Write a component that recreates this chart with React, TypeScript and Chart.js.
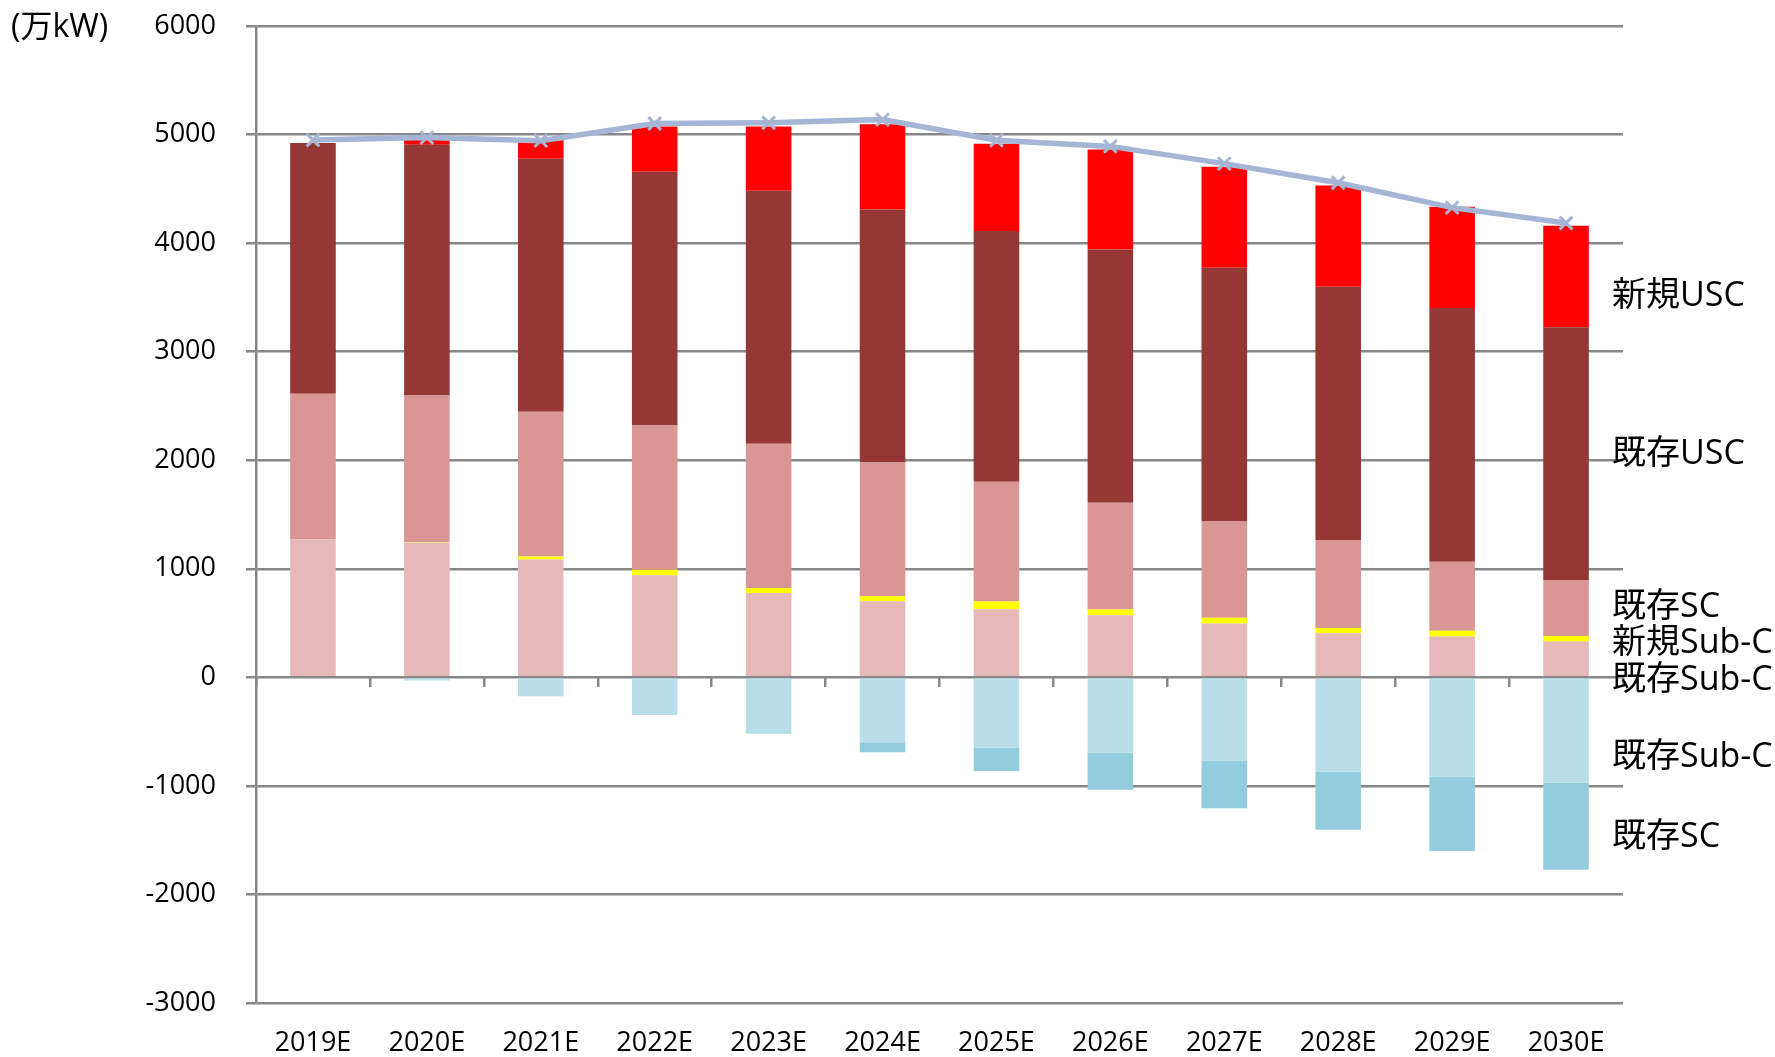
import React, { useEffect, useRef } from "react";
import { Chart, registerables } from "chart.js";

Chart.register(...registerables);

const years = ["2019E", "2020E", "2021E", "2022E", "2023E", "2024E", "2025E", "2026E", "2027E", "2028E", "2029E", "2030E"];
const existSubC = [1269, 1241, 1086, 941, 776, 702, 628, 571, 497, 406, 377, 331];
const newSubC = [0, 5, 28, 50, 46, 46, 70, 53, 53, 49, 53, 50];
const existSC = [1344, 1351, 1333, 1329, 1329, 1230, 1104, 984, 885, 811, 635, 515];
const existUSC = [2309, 2309, 2331, 2338, 2331, 2331, 2309, 2334, 2338, 2331, 2338, 2330];
const newUSC = [0, 43, 169, 416, 592, 786, 804, 920, 931, 934, 931, 935];
const retiredSubC = [0, -30, -175, -347, -519, -599, -648, -694, -768, -869, -915, -968];
const retiredSC = [0, 0, 0, 0, 0, -92, -215, -341, -439, -535, -685, -805];
const totalLine = [4950, 4972, 4944, 5102, 5109, 5138, 4947, 4891, 4732, 4556, 4327, 4185];
const yTicks = [-3000, -2000, -1000, 0, 1000, 2000, 3000, 4000, 5000, 6000];

const rightLabels: { text: string; y: number }[] = [
  { text: "新規USC", y: 293 },
  { text: "既存USC", y: 451 },
  { text: "既存SC", y: 604 },
  { text: "新規Sub-C", y: 640 },
  { text: "既存Sub-C", y: 677 },
  { text: "既存Sub-C", y: 754 },
  { text: "既存SC", y: 834 },
];

const FONT = '"Open Sans", "Noto Sans CJK JP", sans-serif';
const GRID = "#878787";
const LINE = "#a5b5d5";

export default function App() {
  const ref = useRef<HTMLCanvasElement>(null);
  useEffect(() => {
    Chart.defaults.font.family = FONT;
    const chart = new Chart(ref.current as HTMLCanvasElement, {
      type: "bar",
      data: {
        labels: years,
        datasets: [
          {
            type: "line",
            label: "合計",
            data: totalLine,
            borderColor: LINE,
            backgroundColor: LINE,
            borderWidth: 5.5,
            pointStyle: "crossRot",
            pointRadius: 9,
            pointBorderWidth: 3,
            pointBorderColor: LINE,
            stack: "line",
            order: 0,
            tension: 0,
          } as any,
          { label: "既存Sub-C", data: existSubC, backgroundColor: "#e6b9b8", stack: "s", order: 1 },
          { label: "新規Sub-C", data: newSubC, backgroundColor: "#ffff00", stack: "s", order: 1 },
          { label: "既存SC", data: existSC, backgroundColor: "#d99694", stack: "s", order: 1 },
          { label: "既存USC", data: existUSC, backgroundColor: "#953735", stack: "s", order: 1 },
          { label: "新規USC", data: newUSC, backgroundColor: "#ff0000", stack: "s", order: 1 },
          { label: "既存Sub-C廃止", data: retiredSubC, backgroundColor: "#b7dee8", stack: "s", order: 1 },
          { label: "既存SC廃止", data: retiredSC, backgroundColor: "#93cddd", stack: "s", order: 1 },
        ],
      },
      options: {
        responsive: false,
        animation: false,
        devicePixelRatio: 1,
        layout: { padding: { top: 26, right: 152, left: 0, bottom: 0 } },
        plugins: { legend: { display: false }, tooltip: { enabled: false } },
        datasets: { bar: { barPercentage: 0.4, categoryPercentage: 1 } },
        scales: {
          x: {
            stacked: true,
            grid: { display: false, drawTicks: false },
            border: { display: false },
            ticks: { padding: 24, font: { size: 27 }, color: "#000", maxRotation: 0, autoSkip: false },
            afterFit: (s: any) => {
              s.height = 54;
            },
          },
          x2: {
            type: "category",
            position: { y: 0 },
            offset: true,
            grid: { offset: true, drawOnChartArea: false, drawTicks: true, tickLength: 10, color: GRID, lineWidth: 2.5 },
            ticks: { display: false },
            border: { display: false },
          },
          y: {
            stacked: true,
            min: -3000,
            max: 6000,
            afterBuildTicks: (s: any) => {
              s.ticks = yTicks.map((v) => ({ value: v }));
            },
            ticks: { padding: 30, font: { size: 27 }, color: "#000", callback: (v: any) => String(v) },
            grid: { color: GRID, lineWidth: 2.5, tickLength: 10 },
            border: { color: GRID, width: 2.5 },
            afterFit: (s: any) => {
              s.width = 256;
              s.paddingTop = 10;
              s.paddingBottom = 10;
            },
          },
        } as any,
      },
    });
    return () => chart.destroy();
  }, []);

  return (
    <div style={{ position: "absolute", left: 0, top: 0, width: 1775, height: 1057, background: "#fff", fontFamily: FONT }}>
      <canvas ref={ref} width={1775} height={1057} style={{ position: "absolute", left: 0, top: 0 }} />
      <div style={{ position: "absolute", left: 11, top: 25, transform: "translateY(-50%)", fontSize: 32, color: "#000", whiteSpace: "nowrap", lineHeight: 1 }}>
        (万kW)
      </div>
      {rightLabels.map((l, i) => (
        <div
          key={i}
          style={{ position: "absolute", left: 1612, top: l.y, transform: "translateY(-50%)", fontSize: 34, color: "#000", whiteSpace: "nowrap", lineHeight: 1 }}
        >
          {l.text}
        </div>
      ))}
    </div>
  );
}
